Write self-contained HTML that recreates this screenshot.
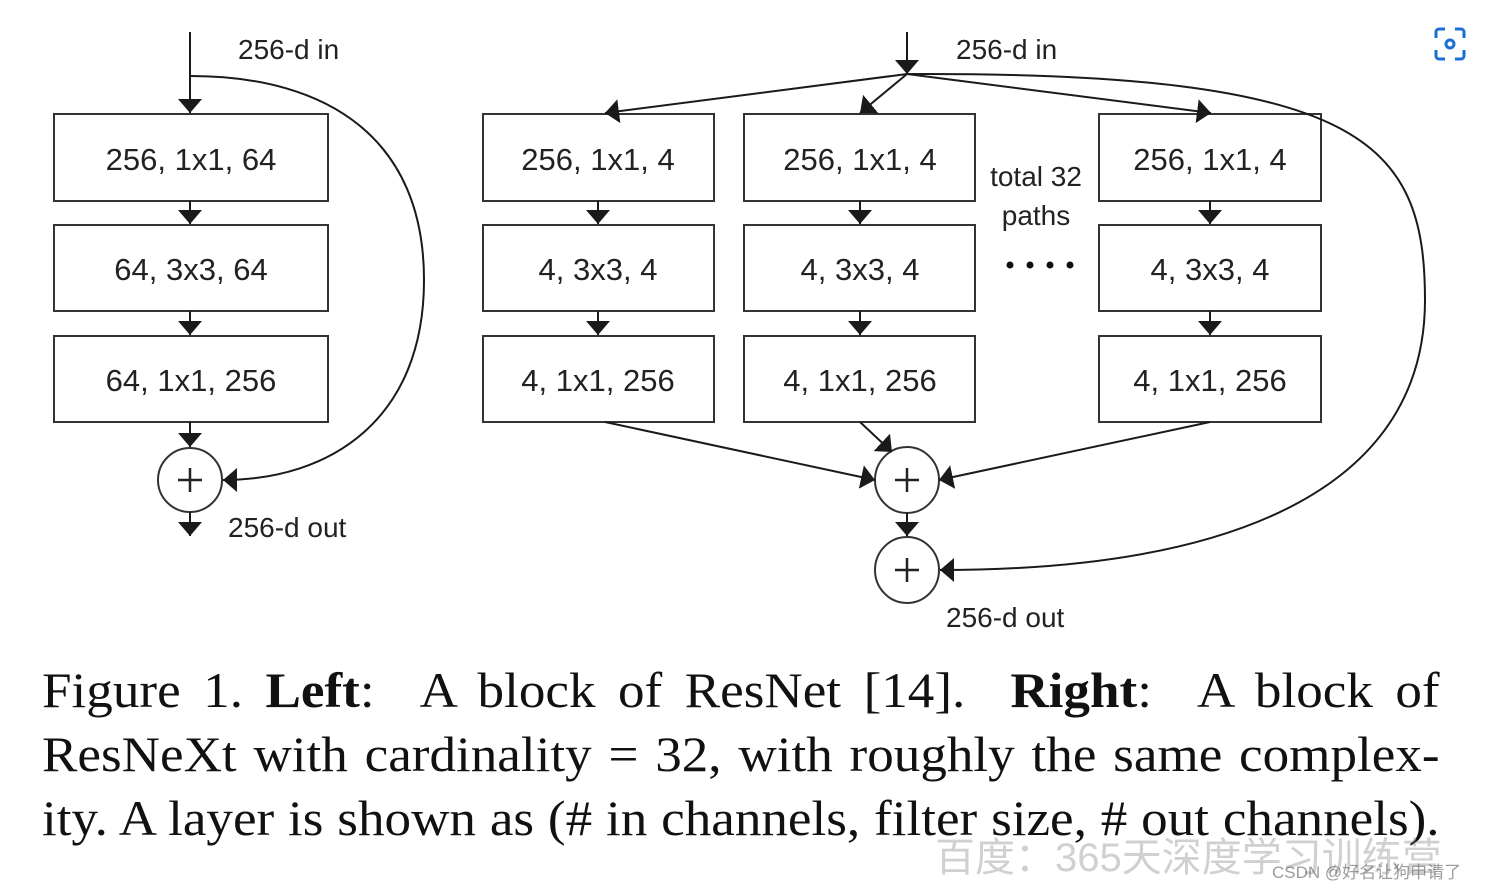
<!DOCTYPE html>
<html><head><meta charset="utf-8"><style>
html,body{margin:0;padding:0;background:#fff;}
body{width:1496px;height:888px;overflow:hidden;position:relative;}
svg{position:absolute;left:0;top:0;}
.cap{position:absolute;left:42px;width:1316px;font-family:"Liberation Serif",serif;font-size:50px;color:#111;line-height:64px;text-align:justify;text-align-last:justify;white-space:nowrap;transform:scaleX(1.062);transform-origin:0 0;}
.wm{position:absolute;font-family:"Liberation Sans","Noto Sans CJK SC",sans-serif;color:rgba(120,120,120,0.35);}
</style></head><body>
<svg width="1496" height="888" xmlns="http://www.w3.org/2000/svg">
<defs>
<marker id="a" viewBox="0 0 14 24" refX="14" refY="12" markerWidth="14" markerHeight="24" markerUnits="userSpaceOnUse" orient="auto"><path d="M0,0 L14,12 L0,24 Z" fill="#1a1a1a"/></marker>
</defs>
<g stroke="#333" stroke-width="2" fill="none">
<rect x="54" y="114" width="274" height="87"/>
<rect x="54" y="225" width="274" height="86"/>
<rect x="54" y="336" width="274" height="86"/>
<rect x="483" y="114" width="231" height="87"/>
<rect x="483" y="225" width="231" height="86"/>
<rect x="483" y="336" width="231" height="86"/>
<rect x="744" y="114" width="231" height="87"/>
<rect x="744" y="225" width="231" height="86"/>
<rect x="744" y="336" width="231" height="86"/>
<rect x="1099" y="114" width="222" height="87"/>
<rect x="1099" y="225" width="222" height="86"/>
<rect x="1099" y="336" width="222" height="86"/>
<circle cx="190" cy="480" r="32"/>
<ellipse cx="907" cy="480" rx="32" ry="33"/>
<ellipse cx="907" cy="570" rx="32" ry="33"/>
</g>
<g stroke="#1a1a1a" stroke-width="2" fill="none">
<line x1="190" y1="32" x2="190" y2="113" marker-end="url(#a)"/>
<line x1="190" y1="201" x2="190" y2="224" marker-end="url(#a)"/>
<line x1="190" y1="311" x2="190" y2="335" marker-end="url(#a)"/>
<line x1="190" y1="422" x2="190" y2="447" marker-end="url(#a)"/>
<line x1="190" y1="512" x2="190" y2="536" marker-end="url(#a)"/>
<path d="M190,76 C330,76 424,140 424,280 C424,420 330,480 223,480" marker-end="url(#a)"/>
<line x1="907" y1="32" x2="907" y2="74" marker-end="url(#a)"/>
<line x1="907" y1="74" x2="605" y2="113" marker-end="url(#a)"/>
<line x1="907" y1="74" x2="860" y2="113" marker-end="url(#a)"/>
<line x1="907" y1="74" x2="1211" y2="113" marker-end="url(#a)"/>
<path d="M907,74 C1360,72 1425,140 1425,300 C1425,480 1250,570 940,570" marker-end="url(#a)"/>
<line x1="598" y1="201" x2="598" y2="224" marker-end="url(#a)"/>
<line x1="598" y1="311" x2="598" y2="335" marker-end="url(#a)"/>
<line x1="860" y1="201" x2="860" y2="224" marker-end="url(#a)"/>
<line x1="860" y1="311" x2="860" y2="335" marker-end="url(#a)"/>
<line x1="1210" y1="201" x2="1210" y2="224" marker-end="url(#a)"/>
<line x1="1210" y1="311" x2="1210" y2="335" marker-end="url(#a)"/>
<line x1="605" y1="422" x2="875" y2="480" marker-end="url(#a)"/>
<line x1="860" y1="422" x2="892" y2="452" marker-end="url(#a)"/>
<line x1="1210" y1="422" x2="939" y2="480" marker-end="url(#a)"/>
<line x1="907" y1="513" x2="907" y2="536" marker-end="url(#a)"/>
</g>
<g stroke="#222" stroke-width="2.5">
<line x1="178" y1="480" x2="202" y2="480"/><line x1="190" y1="468" x2="190" y2="492"/>
<line x1="895" y1="480" x2="919" y2="480"/><line x1="907" y1="468" x2="907" y2="492"/>
<line x1="895" y1="570" x2="919" y2="570"/><line x1="907" y1="558" x2="907" y2="582"/>
</g>
<g font-family="Liberation Sans, sans-serif" font-size="31" fill="#222" text-anchor="middle">
<text x="191" y="170">256, 1x1, 64</text>
<text x="191" y="280">64, 3x3, 64</text>
<text x="191" y="391">64, 1x1, 256</text>
<text x="598" y="170">256, 1x1, 4</text>
<text x="598" y="280">4, 3x3, 4</text>
<text x="598" y="391">4, 1x1, 256</text>
<text x="860" y="170">256, 1x1, 4</text>
<text x="860" y="280">4, 3x3, 4</text>
<text x="860" y="391">4, 1x1, 256</text>
<text x="1210" y="170">256, 1x1, 4</text>
<text x="1210" y="280">4, 3x3, 4</text>
<text x="1210" y="391">4, 1x1, 256</text>
</g>
<g font-family="Liberation Sans, sans-serif" font-size="28" fill="#222">
<text x="238" y="59">256-d in</text>
<text x="956" y="59">256-d in</text>
<text x="228" y="537">256-d out</text>
<text x="946" y="627">256-d out</text>
<text x="1036" y="186" text-anchor="middle">total 32</text>
<text x="1036" y="225" text-anchor="middle">paths</text>
</g>
<g fill="#111"><circle cx="1010" cy="265" r="3.5"/><circle cx="1030" cy="265" r="3.5"/><circle cx="1050" cy="265" r="3.5"/><circle cx="1070" cy="265" r="3.5"/></g>
<g fill="none" stroke="#1a6fd0" stroke-width="3">
<path d="M1436,38 v-6 a3,3 0 0 1 3,-3 h6 M1455,29 h6 a3,3 0 0 1 3,3 v6 M1464,50 v6 a3,3 0 0 1 -3,3 h-6 M1445,59 h-6 a3,3 0 0 1 -3,-3 v-6"/>
<circle cx="1450" cy="44" r="4"/>
</g>
</svg>
<div class="cap" style="top:658px">Figure 1. <b>Left</b>: &nbsp;A block of ResNet [14]. &nbsp;<b>Right</b>: &nbsp;A block of</div>
<div class="cap" style="top:722px">ResNeXt with cardinality = 32, with roughly the same complex-</div>
<div class="cap" style="top:786px">ity. A layer is shown as (# in channels, filter size, # out channels).</div>
<div class="wm" style="left:935px;top:825px;font-size:40px">百度：365天深度学习训练营</div>
<div class="wm" style="left:1272px;top:858px;font-size:17px;color:rgba(90,90,90,0.6)">CSDN @好名让狗申请了</div>
</body></html>
